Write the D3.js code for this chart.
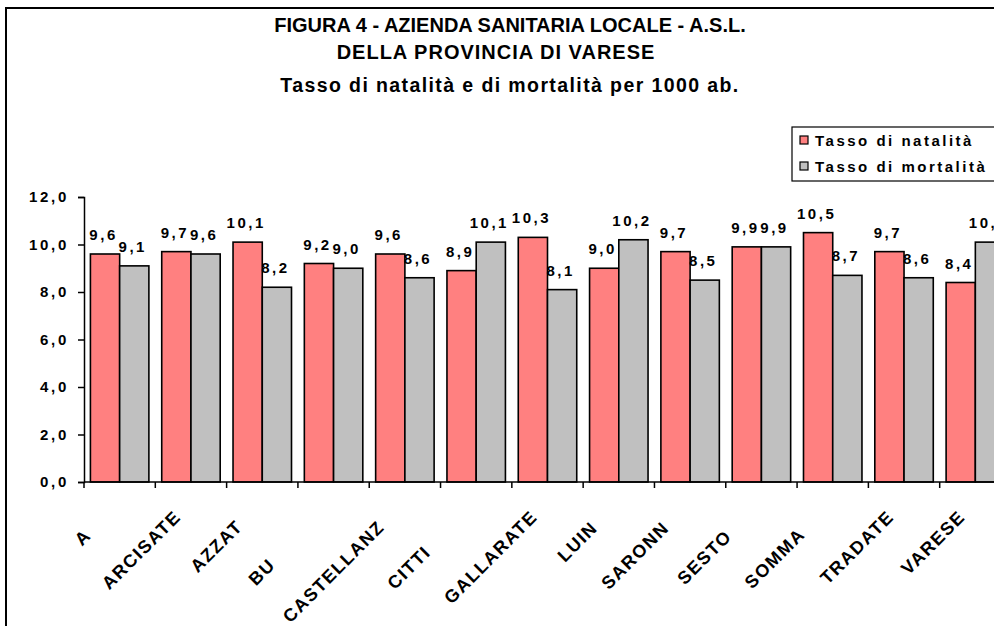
<!DOCTYPE html>
<html>
<head>
<meta charset="utf-8">
<script src="https://cdn.jsdelivr.net/npm/d3@7/dist/d3.min.js"></script>
<style>
	body { margin: 0; background: #fff; }
	svg { display: block; font-family: "Liberation Sans", Arial, sans-serif; }
</style>
</head>
<body>
<div id="chart"></div>
<script>
"use strict";

// Size of SVG
const w = 994;
const h = 626;

// Data.
// Full district names (used for the band layout) and the part of each name
// that is actually visible in the original (the rest is cut off there)
const districtNames = ["ASL", "ARCISATE", "AZZATE", "BUSTO A.", "CASTELLANZA", "CITTIGLIO",
	"GALLARATE", "LUINO", "SARONNO", "SESTO C.", "SOMMA L.", "TRADATE", "VARESE"];
const districtShown = ["A", "ARCISATE", "AZZAT", "BU", "CASTELLANZ", "CITTI",
	"GALLARATE", "LUIN", "SARONN", "SESTO", "SOMMA", "TRADATE", "VARESE"];
const natalita = [9.6, 9.7, 10.1, 9.2, 9.6, 8.9, 10.3, 9.0, 9.7, 9.9, 10.5, 9.7, 8.4];
const mortalita = [9.1, 9.6, 8.2, 9.0, 8.6, 10.1, 8.1, 10.2, 8.5, 9.9, 8.7, 8.6, 10.1];
const seriesNames = ["Tasso di natalità", "Tasso di mortalità"];
const seriesColors = ["#FF8080", "#C0C0C0"];
const yTicks = [0, 2, 4, 6, 8, 10, 12];
const titleLines = ["FIGURA 4 - AZIENDA SANITARIA LOCALE - A.S.L.",
	"DELLA PROVINCIA DI VARESE",
	"Tasso di natalità e di mortalità per 1000 ab."];

const fmt = d => d.toFixed(1).replace(".", ",");

const svg = d3.select("#chart")
	.append("svg")
	.attr("width", w)
	.attr("height", h);

// Chart frame (only top and left edges fall inside the window)
svg.append("rect")
	.attr("x", 6)
	.attr("y", 8)
	.attr("width", 1100)
	.attr("height", 700)
	.attr("fill", "none")
	.attr("stroke", "#000")
	.attr("stroke-width", 2);

// Title
const titleSizes = [20, 20, 19.5];
const titleX = [510, 496, 510];
const titleY = [32, 59, 92];
const titleSpacing = [0, 1, 1.4];
titleLines.forEach((t, i) => {
	svg.append("text")
		.attr("x", titleX[i])
		.attr("y", titleY[i])
		.attr("text-anchor", "middle")
		.style("font-size", titleSizes[i] + "px")
		.style("font-weight", "bold")
		.style("letter-spacing", titleSpacing[i] + "px")
		.text(t);
});

// Scales
const x0 = d3.scaleBand()
	.domain(districtNames)
	.range([84, 1011])
	.paddingInner(0.18)
	.paddingOuter(0.09);

const x1 = d3.scaleBand()
	.domain([0, 1])
	.range([0, x0.bandwidth()]);

const y = d3.scaleLinear()
	.domain([0, 12])
	.range([482, 197]);

const table = districtNames.map((d, i) => ({ name: d, shown: districtShown[i], values: [natalita[i], mortalita[i]] }));

// Bars
const groups = svg.selectAll(".grp")
	.data(table)
	.enter()
	.append("g")
	.attr("class", "grp")
	.attr("transform", d => `translate(${x0(d.name)},0)`);

groups.selectAll("rect")
	.data(d => d.values.map((v, k) => ({ k: k, v: v })))
	.enter()
	.append("rect")
	.attr("x", d => x1(d.k))
	.attr("y", d => y(d.v))
	.attr("width", x1.bandwidth())
	.attr("height", d => y(0) - y(d.v))
	.attr("fill", d => seriesColors[d.k])
	.attr("stroke", "#000")
	.attr("stroke-width", 1.6);

// Value labels
groups.selectAll(".val")
	.data(d => d.values.map((v, k) => ({ k: k, v: v })))
	.enter()
	.append("text")
	.attr("class", "val")
	.attr("x", d => x1(d.k) + x1.bandwidth() / 2 - 1.5)
	.attr("y", d => y(d.v) - 14)
	.attr("text-anchor", "middle")
	.style("font-size", "15px")
	.style("font-weight", "bold")
	.style("letter-spacing", "2.5px")
	.text(d => fmt(d.v));

// Y axis
const yAxis = svg.append("g")
	.attr("transform", "translate(84,0)")
	.call(d3.axisLeft(y).tickValues(yTicks).tickSize(6).tickPadding(9).tickFormat(fmt));
yAxis.select(".domain").attr("stroke", "#000").attr("stroke-width", 1.5);
yAxis.selectAll(".tick line").attr("stroke", "#000").attr("stroke-width", 1.5);
yAxis.selectAll(".tick text")
	.attr("fill", "#000")
	.style("font-family", "\"Liberation Sans\", Arial, sans-serif")
	.style("font-size", "15px")
	.style("font-weight", "bold")
	.style("letter-spacing", "2.7px");

// X axis line and category tick marks between bands
svg.append("line")
	.attr("x1", 84).attr("x2", 1011)
	.attr("y1", y(0)).attr("y2", y(0))
	.attr("stroke", "#000")
	.attr("stroke-width", 1.5);

const step = x0.step();
svg.selectAll(".xtick")
	.data(d3.range(districtNames.length + 1))
	.enter()
	.append("line")
	.attr("class", "xtick")
	.attr("x1", i => 84 + i * step)
	.attr("x2", i => 84 + i * step)
	.attr("y1", y(0))
	.attr("y2", y(0) + 6)
	.attr("stroke", "#000")
	.attr("stroke-width", 1.5);

// Category labels, rotated. Each label sits where its full name would end,
// but only the visible beginning of the name is drawn (as in the original)
svg.selectAll(".cat")
	.data(table)
	.enter()
	.append("text")
	.attr("class", "cat")
	.attr("transform", d => `translate(${x0(d.name) + x0.bandwidth() / 2 - 9},518) rotate(-45)`)
	.attr("text-anchor", "end")
	.style("font-size", "18px")
	.style("font-weight", "900")
	.style("letter-spacing", "1.5px")
	.text(d => d.name)
	.each(function(d) {
		const fullLen = this.getComputedTextLength();
		d3.select(this)
			.attr("text-anchor", "start")
			.attr("x", -fullLen)
			.text(d.shown);
	});

// Legend
const legend = svg.append("g");
legend.append("rect")
	.attr("x", 792)
	.attr("y", 127)
	.attr("width", 250)
	.attr("height", 54)
	.attr("fill", "#fff")
	.attr("stroke", "#000")
	.attr("stroke-width", 1.2);

seriesNames.forEach((s, i) => {
	legend.append("rect")
		.attr("x", 800)
		.attr("y", 136 + i * 26)
		.attr("width", 8)
		.attr("height", 8)
		.attr("fill", seriesColors[i])
		.attr("stroke", "#000")
		.attr("stroke-width", 1.2);
	legend.append("text")
		.attr("x", 815)
		.attr("y", 146 + i * 26)
		.style("font-size", "15px")
		.style("font-weight", "bold")
		.style("letter-spacing", "2.5px")
		.text(s);
});
</script>
</body>
</html>
